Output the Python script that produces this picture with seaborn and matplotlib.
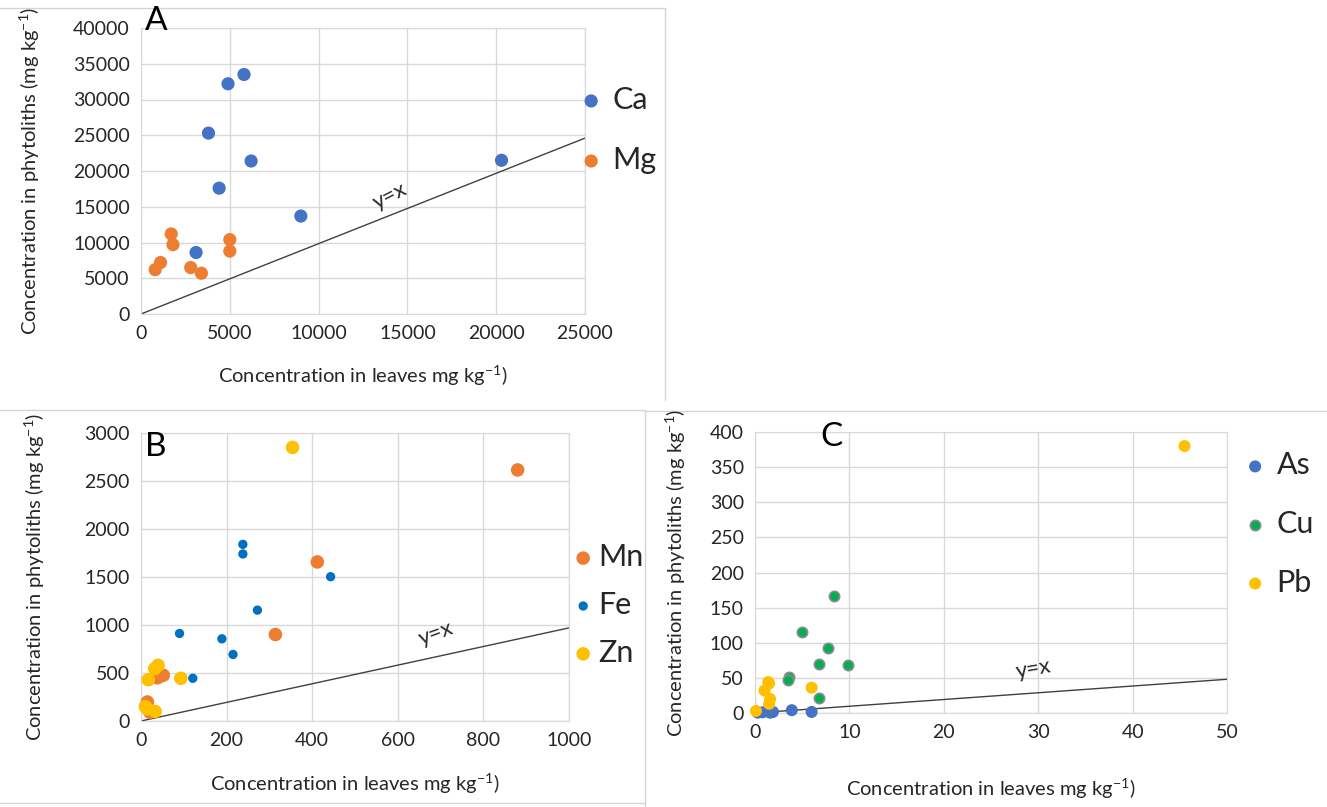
import numpy as np
import pandas as pd
import matplotlib
matplotlib.use("Agg")
import matplotlib.pyplot as plt
from matplotlib.lines import Line2D
import seaborn as sns

# panel A - macro elements
ca_x = [5800, 4900, 3800, 6200, 4400, 9000, 3100, 20300]
ca_y = [33500, 32200, 25300, 21400, 17600, 13700, 8600, 21500]
mg_x = [1700, 1800, 1100, 800, 2800, 3400, 5000, 5000]
mg_y = [11200, 9700, 7200, 6200, 6500, 5700, 10400, 8800]

# panel B
mn_x = [880, 412, 314, 38, 45, 52, 15, 21]
mn_y = [2615, 1657, 901, 450, 465, 477, 198, 90]
fe_x = [238, 238, 443, 272, 90, 189, 215, 121]
fe_y = [1840, 1740, 1503, 1155, 912, 856, 693, 445]
zn_x = [354, 17, 32, 40, 93, 10, 15, 33]
zn_y = [2850, 430, 545, 580, 445, 150, 125, 100]

# panel C
as_x = [0.3, 1.6, 1.9, 3.9, 6.0, 0.8]
as_y = [0.5, 0.5, 1.5, 4, 1.5, 1]
cu_x = [8.4, 5.0, 7.7, 6.8, 9.9, 3.6, 3.5, 6.8]
cu_y = [167, 115, 93, 70, 68, 51, 47, 22]
pb_x = [45.5, 0.1, 1.0, 1.5, 1.6, 1.5, 6.0, 1.4]
pb_y = [380, 3, 32, 42, 20, 13, 36, 44]

x_ticks_a = [0, 5000, 10000, 15000, 20000, 25000]
y_ticks_a = list(range(0, 40001, 5000))
x_ticks_b = [0, 200, 400, 600, 800, 1000]
y_ticks_b = list(range(0, 3001, 500))
x_ticks_c = [0, 10, 20, 30, 40, 50]
y_ticks_c = list(range(0, 401, 50))

sns.set_style("white")
plt.rcParams["font.family"] = ["Lato", "DejaVu Sans"]
plt.rcParams["mathtext.fontset"] = "custom"
plt.rcParams["mathtext.rm"] = "Lato"

W, H = 1327, 807
fig = plt.figure(figsize=(W / 100, H / 100), dpi=100)

grid_c = "#d9d9d9"
txt_c = "#262626"
ylab = r"Concentration in phytoliths (mg kg$^{-1}$)"
xlab = r"Concentration in leaves mg kg$^{-1}$)"


def make_ax(l, r, t, b):
    # pixel box -> figure fraction
    ax = fig.add_axes([l / W, 1 - b / H, (r - l) / W, (b - t) / H])
    return ax


def style_ax(ax, xt, yt, ypad, xpad):
    ax.set_xlim(xt[0], xt[-1])
    ax.set_ylim(yt[0], yt[-1])
    ax.set_xticks(xt)
    ax.set_yticks(yt)
    ax.grid(True, color=grid_c, lw=1)
    ax.set_axisbelow(True)
    for s in ax.spines.values():
        s.set_color(grid_c)
    ax.tick_params(length=0, labelsize=14, colors=txt_c, pad=8)
    ax.set_ylabel(ylab, fontsize=14.5, color=txt_c, labelpad=ypad)
    ax.set_xlabel(xlab, fontsize=14.5, color=txt_c, labelpad=xpad)


def series(ax, x, y, color, name, s=80, ec="none"):
    sns.scatterplot(x=x, y=y, color=color, s=s, edgecolor=ec, linewidth=1.2,
                    label=name, ax=ax, zorder=3, clip_on=False)


def leg(ax, xpx, ypx, spacing, tpad=0.4):
    lg = ax.legend(loc="center left", bbox_to_anchor=(xpx / W, 1 - ypx / H),
                   bbox_transform=fig.transFigure, frameon=False, fontsize=22,
                   handlelength=0.6, handletextpad=tpad, labelspacing=spacing,
                   borderpad=0, borderaxespad=0, markerscale=1.0)
    for t in lg.get_texts():
        t.set_color(txt_c)


# ---- A ----
axA = make_ax(141, 585, 28, 314)
style_ax(axA, x_ticks_a, y_ticks_a, 22, 15)
axA.plot([0, 25000], [0, 24600], color="#404040", lw=1, zorder=2)
series(axA, ca_x, ca_y, "#4472C4", "Ca", s=90)
series(axA, mg_x, mg_y, "#ED7D31", "Mg", s=90)
axA.text(14000, 16500, "y=x", rotation=27, fontsize=16, color=txt_c, ha="center", va="center")
leg(axA, 582, 130, 1.05)

# ---- B ----
axB = make_ax(141, 569, 433, 721)
style_ax(axB, x_ticks_b, y_ticks_b, 27, 16)
axB.plot([0, 1000], [0, 970], color="#404040", lw=1, zorder=2)
series(axB, mn_x, mn_y, "#ED7D31", "Mn", s=95)
series(axB, fe_x, fe_y, "#0070C0", "Fe", s=45)
series(axB, zn_x, zn_y, "#FFC000", "Zn", s=95)
axB.text(690, 910, "y=x", rotation=20, fontsize=16, color=txt_c, ha="center", va="center")
leg(axB, 574, 605, 0.65, tpad=0.2)

# ---- C ----
axC = make_ax(755, 1227, 432, 713)
style_ax(axC, x_ticks_c, y_ticks_c, 16, 25)
axC.plot([0, 50], [0, 48], color="#404040", lw=1, zorder=2)
series(axC, as_x, as_y, "#4472C4", "As", s=75)
series(axC, cu_x, cu_y, "#00B050", "Cu", s=55, ec="#8c8c8c")
series(axC, pb_x, pb_y, "#FFC000", "Pb", s=75)
axC.text(29.5, 62, "y=x", rotation=10, fontsize=16, color=txt_c, ha="center", va="center")
leg(axC, 1246, 524, 1.0)

# panel letters
fig.text(145 / W, 1 - 21 / H, "A", fontsize=24, color="black", va="center")
fig.text(145 / W, 1 - 447 / H, "B", fontsize=24, color="black", va="center")
fig.text(820 / W, 1 - 437 / H, "C", fontsize=24, color="black", va="center")

# light frame lines of the original composite
frame = [((0, 665), (8, 8)), ((665, 665), (8, 400)), ((0, 645), (410, 410)),
         ((0, 645), (803, 803)), ((645, 1327), (411, 411)), ((645, 645), (411, 807))]
for xs, ys in frame:
    fig.add_artist(Line2D([xs[0] / W, xs[1] / W], [1 - ys[0] / H, 1 - ys[1] / H],
                          transform=fig.transFigure, color="#d4d4d4", lw=1, zorder=0))

fig.savefig("out.png", dpi=100)
